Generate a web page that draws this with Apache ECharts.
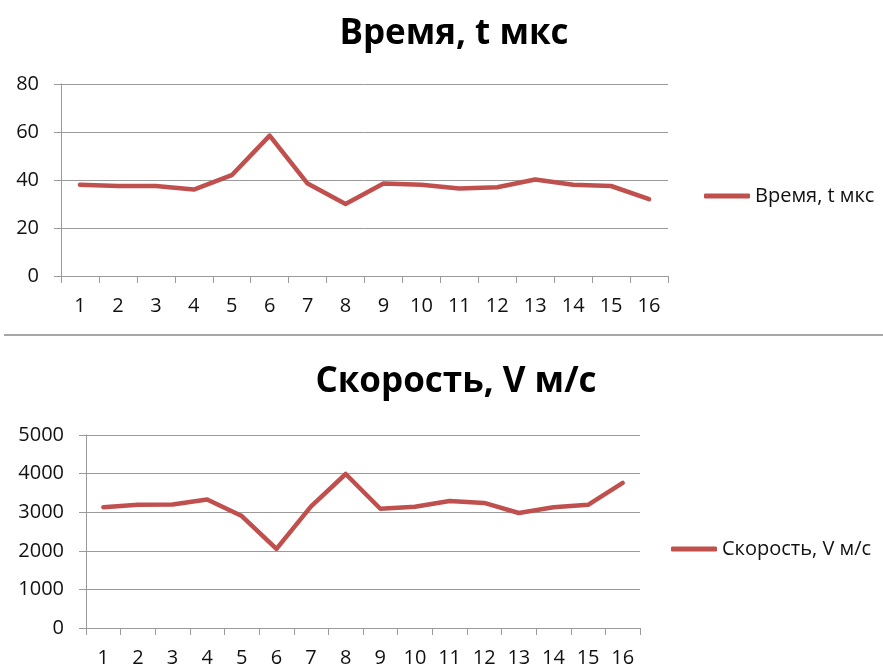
<!DOCTYPE html>
<html>
<head>
<meta charset="utf-8">
<script src="https://cdn.jsdelivr.net/npm/echarts@6/dist/echarts.min.js"></script>
<style>
  html, body { margin: 0; padding: 0; background: #fff; }
  #chart { width: 883px; height: 668px; }
</style>
</head>
<body>
<div id="chart"></div>
<script>
// Measurement numbers (1..16)
const categories = ['1','2','3','4','5','6','7','8','9','10','11','12','13','14','15','16'];
// Time of flight, microseconds
const timeValues = [38, 37.5, 37.5, 36, 42, 58.5, 38.5, 30, 38.5, 38, 36.5, 37, 40.2, 38, 37.5, 32];
// Velocity, m/s
const speedValues = [3130, 3190, 3200, 3330, 2900, 2050, 3150, 3990, 3090, 3140, 3290, 3240, 2980, 3130, 3190, 3760];

const timeName = 'Время, t мкс';
const speedName = 'Скорость, V м/с';

const FONT = '"Open Sans", "Noto Sans", sans-serif';
const LINE_COLOR = '#C0504D';
const GRID_COLOR = '#9a9a9a';

function xAxisFor(gridIndex) {
  return {
    type: 'category', gridIndex, data: categories, boundaryGap: true,
    axisLine: { lineStyle: { color: GRID_COLOR, width: 1 } },
    axisTick: { show: true, interval: 0, length: 7, lineStyle: { color: GRID_COLOR } },
    axisLabel: { interval: 0, color: '#111', fontFamily: FONT, fontSize: 20, margin: 20 }
  };
}
function yAxisFor(gridIndex, max, interval) {
  return {
    type: 'value', gridIndex, min: 0, max, interval,
    axisLine: { show: true, lineStyle: { color: GRID_COLOR, width: 1 } },
    axisTick: { show: true, length: 7, lineStyle: { color: GRID_COLOR } },
    splitLine: { lineStyle: { color: GRID_COLOR, width: 1 } },
    axisLabel: { color: '#111', fontFamily: FONT, fontSize: 20, margin: 22,
      formatter: v => String(v) }
  };
}
function lineSeries(name, data, idx) {
  return {
    type: 'line', name, data, xAxisIndex: idx, yAxisIndex: idx,
    symbol: 'none', smooth: false,
    lineStyle: { color: LINE_COLOR, width: 4.5, cap: 'round', join: 'round' },
    itemStyle: { color: LINE_COLOR }
  };
}
function legendFor(name, left, top) {
  return {
    data: [name], left, top, padding: 0,
    itemWidth: 46, itemHeight: 5, icon: 'roundRect',
    textStyle: { fontFamily: FONT, fontSize: 20, color: '#111' }
  };
}

const chart = echarts.init(document.getElementById('chart'));
chart.setOption({
  animation: false,
  backgroundColor: '#fff',
  title: [
    { text: timeName, left: 449, top: 12, textAlign: 'center',
      textStyle: { fontFamily: FONT, fontWeight: 'bold', fontSize: 35, color: '#000' } },
    { text: speedName, left: 451, top: 360, textAlign: 'center',
      textStyle: { fontFamily: FONT, fontWeight: 'bold', fontSize: 35, color: '#000' } }
  ],
  legend: [legendFor(timeName, 704, 186), legendFor(speedName, 671, 539)],
  grid: [
    { left: 61, right: 215, top: 84, bottom: 392 },
    { left: 86, right: 243, top: 435, bottom: 40 }
  ],
  xAxis: [xAxisFor(0), xAxisFor(1)],
  yAxis: [yAxisFor(0, 80, 20), yAxisFor(1, 5000, 1000)],
  series: [lineSeries(timeName, timeValues, 0), lineSeries(speedName, speedValues, 1)],
  graphic: [
    { type: 'line', shape: { x1: 4, y1: 335, x2: 883, y2: 335 },
      style: { stroke: '#a6a6a6', lineWidth: 2 } }
  ]
});
</script>
</body>
</html>
